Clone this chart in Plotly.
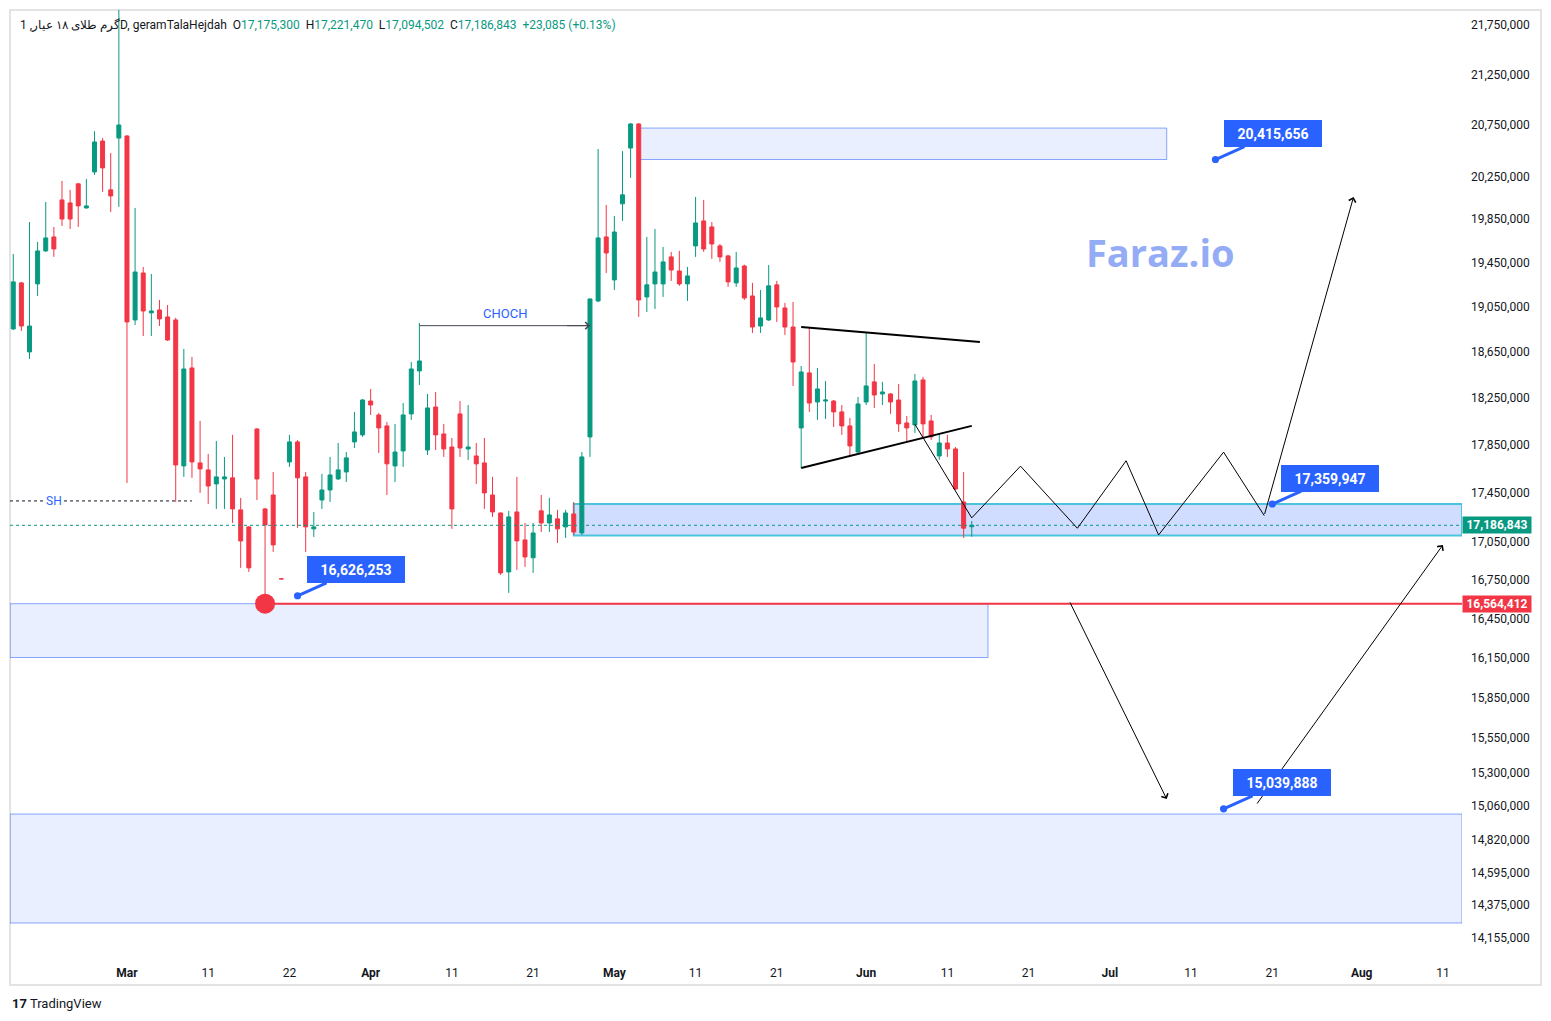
import math
import pandas as pd
import plotly.graph_objects as go

# ---------------- data (daily bars, rial) ----------------
bar_dates = [d.strftime("%Y-%m-%d") for d in pd.date_range("2025-02-15", "2025-06-14")
             if d.strftime("%Y-%m-%d") != "2025-03-20"]
future_dates = [d.strftime("%Y-%m-%d") for d in pd.date_range("2025-06-15", "2025-08-25")]

open_ = [18851000, 19264000, 18648000, 19255000, 19556000, 19685000, 20031000, 20003000, 20183000, 19956000,
         20297000, 20594000, 20126000, 20623000, 20643000, 18931000, 19354000, 18994000, 19020000, 18958000,
         18931000, 17674000, 18508000, 17699000, 17641000, 17525000, 17566000, 17575000, 17312000, 17174000,
         17984000, 17320000, 17434000, 16759000, 17707000, 17875000, 17583000, 17158000, 17393000, 17475000,
         17566000, 17624000, 17875000, 17934000, 18222000, 18103000, 18010000, 17674000, 17799000, 18112000,
         18482000, 17807000, 18171000, 17942000, 17832000, 18112000, 17816000, 17757000, 17699000, 17434000,
         17287000, 16814000, 17295000, 17069000, 16926000, 17304000, 17206000, 17239000, 17174000, 17279000,
         17125000, 17917000, 19101000, 19685000, 19291000, 19994000, 20526000, 20760000, 19137000, 19255000,
         19255000, 19501000, 19372000, 19255000, 19602000, 19834000, 19778000, 19602000, 19510000, 19264000,
         19418000, 19146000, 18877000, 18931000, 19246000, 19038000, 18868000, 17993000, 18465000, 18214000,
         18222000, 18222000, 18129000, 18010000, 17790000, 18214000, 18387000, 18283000, 18283000, 18231000,
         18035000, 18018000, 18404000, 18052000, 17757000, 17866000, 17816000, 17377000, 17175300]
high_ = [19528000, 19273000, 19824000, 19639000, 20012000, 19778000, 20211000, 20126000, 20190000, 20230000,
         20689000, 20623000, 20478000, 21950000, 20650000, 19956000, 19409000, 19345000, 19110000, 19065000,
         18950000, 18674000, 18604000, 18052000, 17774000, 17883000, 17749000, 17934000, 17410000, 17180000,
         17990000, 17328000, 17624000, 16759000, 17934000, 17890000, 17624000, 17295000, 17608000, 17749000,
         17866000, 17790000, 18129000, 18240000, 18326000, 18120000, 18044000, 18027000, 18205000, 18560000,
         18904000, 18283000, 18300000, 18027000, 17908000, 18222000, 18188000, 17866000, 17908000, 17583000,
         17290000, 17304000, 17583000, 17206000, 17206000, 17434000, 17410000, 17312000, 17312000, 17377000,
         17790000, 19120000, 20517000, 19984000, 19881000, 20497000, 20770000, 20770000, 19685000, 19759000,
         19592000, 19547000, 19556000, 19409000, 20059000, 20031000, 19824000, 19620000, 19520000, 19547000,
         19430000, 19264000, 19200000, 19427000, 19282000, 19083000, 19092000, 18525000, 18860000, 18508000,
         18395000, 18231000, 18188000, 18078000, 18257000, 18815000, 18543000, 18387000, 18290000, 18369000,
         18095000, 18456000, 18430000, 18103000, 17934000, 17934000, 17832000, 17624000, 17221470]
low_ = [18842000, 18833000, 18587000, 19146000, 19548000, 19501000, 19787000, 19759000, 19778000, 19947000,
        20268000, 20107000, 19918000, 19965000, 17533000, 18886000, 18789000, 18789000, 18877000, 18745000,
        17377000, 17583000, 17575000, 17451000, 17361000, 17320000, 17320000, 17206000, 16846000, 16814000,
        17393000, 16564412, 16973000, 16759000, 17666000, 17166000, 16973000, 17093000, 17320000, 17377000,
        17558000, 17541000, 17824000, 17917000, 18103000, 17782000, 17434000, 17541000, 17666000, 18061000,
        18360000, 17765000, 17807000, 17749000, 17158000, 17749000, 17724000, 17525000, 17320000, 17255000,
        16790000, 16649000, 16830000, 16854000, 16806000, 17133000, 17133000, 17045000, 17085000, 17109000,
        17109000, 17749000, 19090000, 19354000, 19200000, 19834000, 20240000, 18958000, 19002000, 19029000,
        19137000, 19282000, 19237000, 19101000, 19501000, 19547000, 19483000, 19455000, 19228000, 19228000,
        19110000, 18815000, 18815000, 18922000, 18913000, 18798000, 18352000, 17657000, 18129000, 18061000,
        18069000, 18001000, 17934000, 17749000, 17782000, 18188000, 18163000, 18188000, 18112000, 17959000,
        17875000, 17951000, 17917000, 17891000, 17724000, 17749000, 17475000, 17085000, 17094502]
close_ = [19273000, 18877000, 18877000, 19556000, 19676000, 19574000, 19852000, 19852000, 19975000, 19975000,
          20585000, 20335000, 20069000, 20750000, 18913000, 19363000, 19011000, 19011000, 18940000, 18753000,
          17682000, 18499000, 17707000, 17649000, 17508000, 17583000, 17583000, 17320000, 17061000, 16846000,
          17566000, 17190000, 17029000, 16759000, 17875000, 17575000, 17174000, 17174000, 17475000, 17599000,
          17641000, 17741000, 17959000, 18231000, 18188000, 17993000, 17691000, 17790000, 18103000, 18499000,
          18569000, 18163000, 17934000, 17816000, 17320000, 17824000, 17832000, 17691000, 17451000, 17295000,
          16806000, 17255000, 17061000, 16933000, 17125000, 17206000, 17271000, 17158000, 17287000, 17133000,
          17749000, 19119000, 19676000, 19537000, 19731000, 20079000, 20760000, 19110000, 19246000, 19363000,
          19455000, 19381000, 19255000, 19327000, 19815000, 19574000, 19620000, 19501000, 19273000, 19400000,
          19128000, 18868000, 18949000, 19237000, 19047000, 18868000, 18560000, 18473000, 18205000, 18326000,
          18231000, 18129000, 18010000, 17841000, 18197000, 18352000, 18274000, 18300000, 18214000, 18027000,
          17993000, 18395000, 18027000, 17917000, 17866000, 17816000, 17483000, 17163758, 17186843]

last_price = 17186843
swing_low = 16564412
swing_low_date = "2025-03-18"

tick_values = [21750000, 21250000, 20750000, 20250000, 19850000, 19450000, 19050000, 18650000, 18250000,
               17850000, 17450000, 17050000, 16750000, 16450000, 16150000, 15850000, 15550000, 15300000,
               15060000, 14820000, 14595000, 14375000, 14155000]
x_tick_dates = ["2025-03-01", "2025-03-11", "2025-03-22", "2025-04-01", "2025-04-11", "2025-04-21",
                "2025-05-01", "2025-05-11", "2025-05-21", "2025-06-01", "2025-06-11", "2025-06-21",
                "2025-07-01", "2025-07-11", "2025-07-21", "2025-08-01", "2025-08-11"]
x_tick_text = ["<b>Mar</b>", "11", "22", "<b>Apr</b>", "11", "21", "<b>May</b>", "11", "21", "<b>Jun</b>",
               "11", "21", "<b>Jul</b>", "11", "21", "<b>Aug</b>", "11"]

# drawings (date, price)
zone_top = ("2025-05-04", "2025-07-08", 20415656, 20720000)
zone_mid = ("2025-04-26", None, 17105000, 17359947)
zone_low = (None, "2025-06-16", 16150000, 16564412)
zone_deep = (None, None, 14253000, 15003000)
sh_level = (("2025-03-09"), 17385000)
choch = ("2025-04-07", "2025-04-28", 18880000)
tri_upper = [("2025-05-24", 18868000), ("2025-06-15", 18735000)]
tri_lower = [("2025-05-24", 17657000), ("2025-06-14", 18010000)]
zig_dates = ["2025-06-07", "2025-06-14", "2025-06-20", "2025-06-27", "2025-07-03", "2025-07-07",
             "2025-07-15", "2025-07-20"]
zig_prices = [18024000, 17247000, 17672000, 17163000, 17717000, 17109000, 17789000, 17266000]
zig_target = ("2025-07-31", 20059000)
arrow_down = [("2025-06-26", 16586000), ("2025-07-08", 15109000)]
arrow_up = [("2025-07-19", 15067000), ("2025-08-11", 17029000)]
callouts = [("2025-03-23", 16626253), ("2025-07-14", 20415656), ("2025-07-21", 17359947),
            ("2025-07-15", 15039888)]

# ---------------- layout helpers ----------------
GREEN, RED, BLUE, INK = "#089981", "#f23645", "#2962ff", "#131722"
W, H = 1551, 1021
PL, PR, PT, PB = 10, 1462, 10, 955
BAR_PX = 8.123

cal = bar_dates + future_dates
pos = {d: i for i, d in enumerate(cal)}
xpos = list(range(len(bar_dates)))
x_rng = [-0.4, -0.4 + (PR - PL) / BAR_PX]
y_rng = [math.log10(14040000), math.log10(21904000)]
lg = math.log10


def px(xp):
    return (xp - PL) / (PR - PL)


def py(yp):
    return (PB - yp) / (PB - PT)


fig = go.Figure()

# zones
def zone(z, fill, line, lw):
    x0 = pos[z[0]] if z[0] else x_rng[0]
    x1 = pos[z[1]] if z[1] else x_rng[1]
    fig.add_shape(type="rect", xref="x", yref="y", x0=x0, x1=x1, y0=z[2], y1=z[3],
                  fillcolor=fill, line=dict(color=line, width=lw), layer="below")

zone(zone_deep, "rgba(41,98,255,0.10)", "rgba(41,98,255,0.55)", 1)
zone(zone_low, "rgba(41,98,255,0.10)", "rgba(41,98,255,0.55)", 1)
zone(zone_top, "rgba(41,98,255,0.10)", "rgba(41,98,255,0.55)", 1)
zone(zone_mid, "rgba(41,98,255,0.22)", "#4cc3dc", 2)

fig.add_trace(go.Candlestick(
    x=xpos, open=open_, high=high_, low=low_, close=close_,
    increasing=dict(line=dict(color=GREEN, width=1), fillcolor=GREEN),
    decreasing=dict(line=dict(color=RED, width=1), fillcolor=RED),
    whiskerwidth=0, showlegend=False, hoverinfo="skip"))

# last price dotted line
fig.add_trace(go.Scatter(x=x_rng, y=[last_price, last_price], mode="lines",
                         line=dict(color=GREEN, width=1, dash="dot"), showlegend=False, hoverinfo="skip"))
# SH dotted line
fig.add_trace(go.Scatter(x=[x_rng[0], pos[sh_level[0]]], y=[sh_level[1]] * 2, mode="lines",
                         line=dict(color=INK, width=1, dash="dot"), showlegend=False, hoverinfo="skip"))
# red swing low line
fig.add_trace(go.Scatter(x=[pos[swing_low_date], x_rng[1]], y=[swing_low] * 2, mode="lines",
                         line=dict(color=RED, width=2), showlegend=False, hoverinfo="skip"))
fig.add_trace(go.Scatter(x=[pos[swing_low_date]], y=[swing_low], mode="markers",
                         marker=dict(color=RED, size=20), showlegend=False, hoverinfo="skip"))
# triangle
for seg in (tri_upper, tri_lower):
    fig.add_trace(go.Scatter(x=[pos[d] for d, _ in seg], y=[p for _, p in seg], mode="lines",
                             line=dict(color="#000000", width=2), showlegend=False, hoverinfo="skip"))
# zigzag
fig.add_trace(go.Scatter(x=[pos[d] for d in zig_dates], y=zig_prices, mode="lines",
                         line=dict(color="#000000", width=1), showlegend=False, hoverinfo="skip"))
# CHOCH line
fig.add_trace(go.Scatter(x=[pos[choch[0]], pos[choch[1]]], y=[choch[2]] * 2, mode="lines",
                         line=dict(color="#434651", width=1), showlegend=False, hoverinfo="skip"))


def arrow(p0, p1, color="#000000", width=1):
    fig.add_annotation(x=pos[p1[0]], y=lg(p1[1]), ax=pos[p0[0]], ay=lg(p0[1]),
                       xref="x", yref="y", axref="x", ayref="y", text="", showarrow=True,
                       arrowhead=4, arrowsize=1.4, arrowwidth=width, arrowcolor=color, standoff=0)


arrow((zig_dates[-1], zig_prices[-1]), zig_target)
arrow(arrow_down[0], arrow_down[1])
arrow(arrow_up[0], arrow_up[1])
# CHOCH arrow head
fig.add_annotation(x=pos[choch[1]], y=lg(choch[2]), ax=pos[choch[1]] - 3, ay=lg(choch[2]),
                   xref="x", yref="y", axref="x", ayref="y", text="", showarrow=True,
                   arrowhead=4, arrowsize=1.4, arrowwidth=1, arrowcolor="#434651", standoff=0)
fig.add_annotation(x=(pos[choch[0]] + pos[choch[1]]) / 2, y=lg(choch[2]), xref="x", yref="y",
                   text="CHOCH", showarrow=False, yshift=12,
                   font=dict(color=BLUE, size=13, family="Roboto"))
fig.add_annotation(x=pos["2025-02-20"], y=lg(sh_level[1]), xref="x", yref="y", text="SH",
                   showarrow=False, bgcolor="white", borderpad=1,
                   font=dict(color=BLUE, size=12, family="Roboto"))

# callouts
for d, p in callouts:
    fig.add_annotation(x=pos[d], y=lg(p), xref="x", yref="y", text=f"<b>{p:,}</b>",
                       showarrow=True, arrowhead=6, arrowsize=0.6, arrowwidth=3, arrowcolor=BLUE,
                       ax=58, ay=-26, standoff=0, bgcolor=BLUE, bordercolor=BLUE, borderpad=4,
                       width=88, height=17, font=dict(color="white", size=14, family="Roboto"))

# price axis labels
for p, col in ((last_price, GREEN), (swing_low, RED)):
    fig.add_annotation(x=1.0, xref="paper", y=lg(p), yref="y", xanchor="left", text=f"<b>{p:,}</b>",
                       showarrow=False, bgcolor=col, borderpad=2, width=64, height=12,
                       font=dict(color="white", size=12, family="Roboto"))

# watermark
fig.add_annotation(x=px(1160), y=py(252), xref="paper", yref="paper", xanchor="center", yanchor="middle",
                   text="<b>Faraz.io</b>", showarrow=False,
                   font=dict(color="#94acf6", size=38, family="Open Sans"))

# header
G = GREEN
sp = "\u00a0\u00a0"
header = ("گرم طلای ۱۸ عیار, 1D, geramTalaHejdah" + sp +
          f"O<span style='color:{G}'>17,175,300</span>" + sp +
          f"H<span style='color:{G}'>17,221,470</span>" + sp +
          f"L<span style='color:{G}'>17,094,502</span>" + sp +
          f"C<span style='color:{G}'>17,186,843</span>" + sp +
          f"<span style='color:{G}'>+23,085 (+0.13%)</span>")
fig.add_annotation(x=px(18), y=py(25), xref="paper", yref="paper", xanchor="left", yanchor="middle",
                   text=header, showarrow=False, font=dict(color=INK, size=12, family="Roboto"))

# TradingView logo text
fig.add_annotation(x=px(10), y=py(1003), xref="paper", yref="paper", xanchor="left", yanchor="middle",
                   text="<b>17</b> TradingView", showarrow=False,
                   font=dict(color=INK, size=13, family="Roboto"))

# outer frame
fig.add_shape(type="rect", xref="paper", yref="paper", x0=0, x1=px(1541), y0=py(985), y1=py(10),
              line=dict(color="#e3e3e3", width=2), fillcolor="rgba(0,0,0,0)", layer="below")

fig.update_layout(
    width=W, height=H, autosize=False,
    margin=dict(l=PL, r=W - PR, t=PT, b=H - PB, pad=0),
    paper_bgcolor="white", plot_bgcolor="white",
    showlegend=False, hovermode=False,
    xaxis=dict(range=x_rng, tickmode="array", tickvals=[pos[d] for d in x_tick_dates], ticktext=x_tick_text,
               showgrid=False, zeroline=False, showline=False, ticks="", ticklabelstandoff=9,
               tickfont=dict(size=12, color=INK, family="Roboto"), rangeslider=dict(visible=False)),
    yaxis=dict(type="log", range=y_rng, side="right", tickmode="array", tickvals=tick_values,
               ticktext=[f"{v:,}" for v in tick_values], showgrid=False, zeroline=False, showline=False,
               ticks="", ticklabelstandoff=8, tickfont=dict(size=12, color=INK, family="Roboto")),
)

fig.write_html("out.html")
